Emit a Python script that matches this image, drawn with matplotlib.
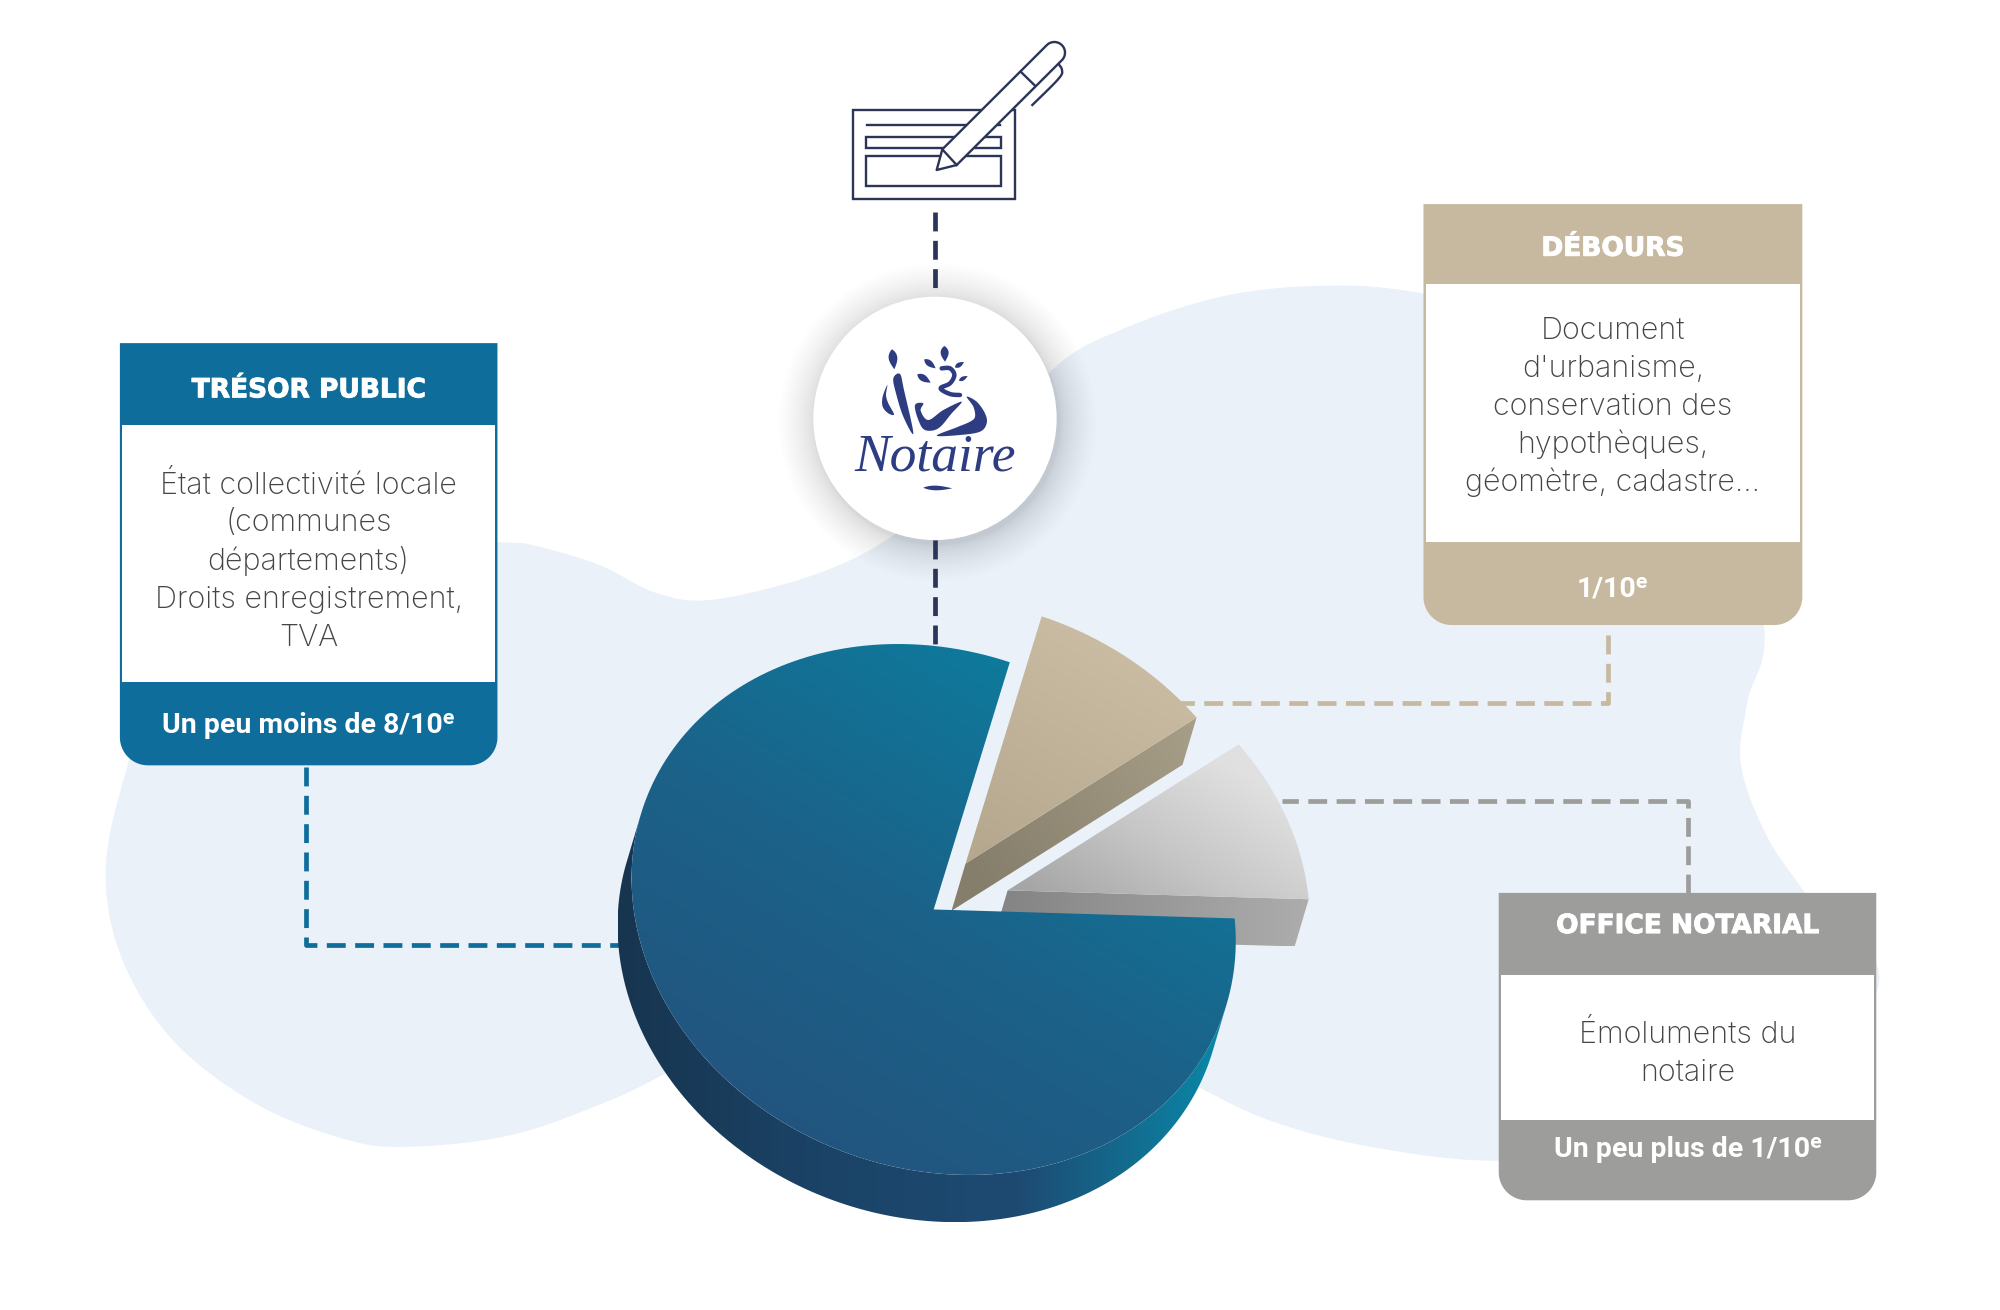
import numpy as np
import matplotlib
matplotlib.use("Agg")
import matplotlib.pyplot as plt
import matplotlib.patheffects as pe
from matplotlib.patches import Polygon, Circle, Rectangle
from matplotlib.colors import LinearSegmentedColormap

# data
slice_names = ["OFFICE NOTARIAL", "DÉBOURS", "TRÉSOR PUBLIC"]
slice_shares = [9.8, 9.8, 80.4]
slice_offsets = [(58, -15), (25, -36), (0, 0)]

titles = ["TRÉSOR PUBLIC", "DÉBOURS", "OFFICE NOTARIAL"]
bodies = [
    ["État collectivité locale", "(communes", "départements)", "Droits enregistrement,", "TVA"],
    ["Document", "d'urbanisme,", "conservation des", "hypothèques,", "géomètre, cadastre..."],
    ["Émoluments du", "notaire"],
]
footers = ["Un peu moins de 8/10ᵉ", "1/10ᵉ", "Un peu plus de 1/10ᵉ"]

BLUE = "#0f6d9b"
BEIGE = "#c7b99f"
GREY = "#9d9d9c"
NAVY = "#2c3558"
LOGO = "#2e3d82"
BLOB = "#eaf1f9"

# pie projection, everything is in the 1568x1027 space
C = np.array([732.0, 713.0])
U = np.array([236.0, 7.0])
V = np.array([-20.0, -208.0])
DEPTH = np.array([-11.0, 37.0])


def arc(t0, t1, off=(0, 0), n=200):
    t = np.radians(np.linspace(t0, t1, n))
    return C + np.array(off) + np.outer(np.cos(t), U) + np.outer(np.sin(t), V)


def smooth(pts, closed=True, n=14):
    pts = np.array(pts, dtype=float)
    if closed:
        p = np.vstack([pts[-1], pts, pts[0], pts[1]])
    else:
        p = np.vstack([pts[0], pts, pts[-1]])
    out = []
    for i in range(1, len(p) - 2):
        for s in np.linspace(0, 1, n, endpoint=False):
            out.append(0.5 * (2 * p[i] + (p[i + 1] - p[i - 1]) * s
                              + (2 * p[i - 1] - 5 * p[i] + 4 * p[i + 1] - p[i + 2]) * s ** 2
                              + (3 * p[i] - p[i - 1] - 3 * p[i + 1] + p[i + 2]) * s ** 3))
    if not closed:
        out.append(p[-2])
    return np.array(out)


def grad_fill(ax, verts, colors, p0, p1, z):
    verts = np.array(verts)
    x0, y0 = verts.min(axis=0)
    x1, y1 = verts.max(axis=0)
    xx, yy = np.meshgrid(np.linspace(x0, x1, 300), np.linspace(y0, y1, 300))
    p0 = np.array(p0, dtype=float)
    d = np.array(p1, dtype=float) - p0
    g = ((xx - p0[0]) * d[0] + (yy - p0[1]) * d[1]) / (d @ d)
    cmap = LinearSegmentedColormap.from_list("g", colors)
    im = ax.imshow(np.clip(g, 0, 1), cmap=cmap, vmin=0, vmax=1, extent=(x0, x1, y1, y0),
                   origin="upper", aspect="auto", interpolation="bilinear", zorder=z)
    clip = Polygon(verts, closed=True, transform=ax.transData, fc="none", ec="none")
    ax.add_patch(clip)
    im.set_clip_path(clip)


def card(ax, x0, x1, y0, y1, y2, y3, color, title, body, footer, title_y, line_ys, foot_y):
    r = 22
    t = np.radians(np.linspace(0, 90, 20))
    right = np.c_[x1 - r + r * np.cos(t), y3 - r + r * np.sin(t)]
    left = np.c_[x0 + r - r * np.sin(t), y3 - r + r * np.cos(t)]
    verts = np.vstack([[[x0, y0], [x1, y0]], right, left])
    ax.add_patch(Polygon(verts, closed=True, fc=color, ec="none", zorder=10))
    ax.add_patch(Rectangle((x0 + 1.8, y1), x1 - x0 - 3.6, y2 - y1, fc="white", ec="none", zorder=11))
    cx = (x0 + x1) / 2
    ax.text(cx, title_y + 2, title, color="white", fontsize=19, fontweight="bold",
            family="DejaVu Sans", ha="center", va="center", zorder=12,
            path_effects=[pe.withStroke(linewidth=0.7, foreground="white")])
    for line, y in zip(body, line_ys):
        ax.text(cx, y + 2, line, color="#454545", fontsize=22, fontweight="light",
                family="Inter", ha="center", va="center", zorder=12)
    ax.text(cx, foot_y + 1.5, footer, color="white", fontsize=20.5, fontweight="bold",
            family=["Roboto", "DejaVu Sans"], ha="center", va="center", zorder=12)


def zx(x):
    return (800 + np.asarray(x, dtype=float) / 3) / (2000 / 1568)


def zy(y):
    return (20 + np.asarray(y, dtype=float) / 3) / (2000 / 1568)


def zp(pts):
    pts = np.array(pts, dtype=float)
    return np.c_[zx(pts[:, 0]), zy(pts[:, 1])]


def leaf(ax, a, b, w, z=8):
    a = np.array(a, dtype=float)
    b = np.array(b, dtype=float)
    s = np.linspace(0, 1, 30)
    n = np.array([-(b - a)[1], (b - a)[0]])
    n = n / np.linalg.norm(n)
    line = a + np.outer(s, b - a)
    bulge = (w / 2) * np.sin(np.pi * s ** 0.8)[:, None] * n
    ax.add_patch(Polygon(zp(np.vstack([line + bulge, (line - bulge)[::-1]])), closed=True,
                         fc=LOGO, ec="none", zorder=z))


fig = plt.figure(figsize=(20, 13.1), dpi=100)
ax = fig.add_axes([0, 0, 1, 1])
ax.axis("off")

# background blob
blob = [(100, 600), (83, 680), (95, 750), (135, 815), (200, 865), (270, 893), (320, 899), (400, 890),
        (480, 862), (600, 810), (800, 780), (935, 850), (1000, 880), (1080, 900), (1175, 910), (1300, 900),
        (1470, 780), (1415, 700), (1385, 655), (1365, 600), (1370, 550), (1383, 490), (1350, 350), (1260, 260),
        (1116, 230), (1040, 224), (960, 232), (880, 258), (825, 290), (760, 370), (700, 420), (640, 450),
        (560, 470), (515, 465), (470, 443), (420, 428), (390, 425), (250, 420), (130, 510)]
ax.add_patch(Polygon(smooth(blob), closed=True, fc=BLOB, ec="none", zorder=1))

# connectors
dash = (0, (4, 2))
for xs, ys, col in [([240, 240, 490], [601, 741, 741], BLUE),
                    ([1261, 1261, 925], [498, 551, 551], BEIGE),
                    ([1323, 1323, 1005], [700, 628, 628], GREY),
                    ([733, 733], [166, 228], NAVY),
                    ([733, 733], [423, 510], NAVY)]:
    ax.plot(xs, ys, color=col, lw=3.4, ls=dash, dash_capstyle="butt", solid_joinstyle="miter", zorder=2)

# pie
edges = np.cumsum([0] + slice_shares) * 3.6
t0, t1, t2, t3 = edges
off_g, off_b, off_m = slice_offsets

# grey slice
ga = C + np.array(off_g)
top = np.vstack([ga, arc(t0, t1, off_g)])
side = np.array([ga, ga + U, ga + U + DEPTH, ga + DEPTH])
grad_fill(ax, side, ["#858585", "#adadad"], ga, ga + U, 3)
grad_fill(ax, top, ["#a6a6a6", "#c6c6c6", "#e0e0e0"], (850, 725), (940, 585), 4)

# beige slice
ba = C + np.array(off_b)
e = arc(t1, t1, off_b, 1)[0]
top = np.vstack([ba, arc(t1, t2, off_b)])
side = np.array([ba, e, e + DEPTH, ba + DEPTH])
grad_fill(ax, side, ["#857e6b", "#a89f88"], ba, e, 3)
grad_fill(ax, top, ["#b5a88f", "#c9bba1"], (770, 670), (860, 510), 4)

# big slice, only the lower front of the side shows
tl, tr = 161, 341
side = np.vstack([arc(tl, tr), arc(tl, tr, DEPTH)[::-1]])
grad_fill(ax, side, ["#17354f", "#1b4367", "#1e4a72", "#0a87a7"], (485, 0), (955, 0), 5)
top = np.vstack([C, arc(t2, t3)])
grad_fill(ax, top, ["#22557f", "#1b6289", "#0e7a9c"], (600, 880), (810, 530), 6)

# notaire circle with soft shadow
n_sh = 40
for i in range(n_sh):
    ax.add_patch(Circle((735, 331), 96 + 30 * (i / n_sh) ** 1.6, fc="#666c78", ec="none", alpha=0.005, zorder=7))
ax.add_patch(Circle((733, 328), 95.4, fc="white", ec="none", zorder=7.5))

# logo figure
leaf(ax, (276, 988), (283, 1048), 26)
leaf(ax, (433, 978), (435, 1025), 24)
leaf(ax, (373, 1018), (407, 1045), 18)
leaf(ax, (352, 1063), (392, 1088), 20)
leaf(ax, (465, 1042), (492, 1026), 14)
leaf(ax, (477, 1082), (503, 1068), 12)
leaf(ax, (370, 1403), (457, 1405), 14)
logo_shapes = [
    [(280, 1075), (300, 1062), (312, 1110), (340, 1240), (310, 1190), (288, 1120)],
    [(262, 1095), (248, 1130), (248, 1160), (265, 1180), (282, 1183), (265, 1150), (258, 1125)],
    [(345, 1155), (370, 1150), (362, 1172), (385, 1200), (430, 1170), (485, 1145), (455, 1180), (415, 1225),
     (375, 1230), (355, 1200)],
    [(500, 1130), (530, 1145), (555, 1180), (560, 1210), (540, 1235), (480, 1245), (410, 1247), (470, 1222),
     (510, 1205), (525, 1190), (520, 1160)],
]
for s in logo_shapes:
    ax.add_patch(Polygon(zp(smooth(s)), closed=True, fc=LOGO, ec="none", zorder=8))
swirl = zp(smooth([(425, 1045), (450, 1045), (463, 1065), (450, 1090), (422, 1105), (450, 1122), (480, 1125)],
                  closed=False))
ax.plot(swirl[:, 0], swirl[:, 1], color=LOGO, lw=3.2, solid_capstyle="round", zorder=8)
ax.text(zx(404), zy(1352), "Notaire", color=LOGO, fontsize=38.5, style="italic",
        family="Liberation Serif", ha="center", va="baseline", zorder=8)

# cheque and pen icon
ilw = 1.7
for x0, y0, x1, y1 in [(158, 270, 644, 537), (199, 352, 603, 383), (199, 408, 603, 497)]:
    ax.add_patch(Rectangle((zx(x0), zy(y0)), zx(x1) - zx(x0), zy(y1) - zy(y0), fc="white", ec=NAVY, lw=ilw, zorder=8))
ln = zp([(200, 314), (600, 314)])
ax.plot(ln[:, 0], ln[:, 1], color=NAVY, lw=ilw, zorder=8)
t = np.radians(np.linspace(-135, 45, 30))
cap = np.c_[763 + 32 * np.cos(t), 98 + 32 * np.sin(t)]
pen = np.vstack([[(410, 450), (427, 388)], cap, [(470, 435)]])
ax.add_patch(Polygon(zp(pen), closed=True, fc="white", ec=NAVY, lw=ilw, joinstyle="round", zorder=9))
for seg in [[(427, 388), (470, 435)], [(662, 155), (705, 197)]]:
    s = zp(seg)
    ax.plot(s[:, 0], s[:, 1], color=NAVY, lw=ilw, zorder=9)
clip_line = zp(smooth([(772, 128), (786, 150), (775, 177), (697, 255)], closed=False))
ax.plot(clip_line[:, 0], clip_line[:, 1], color=NAVY, lw=ilw, zorder=8.5)

# cards
card(ax, 94, 390, 269, 333, 535, 600, BLUE, titles[0], bodies[0], footers[0],
     304, [378, 408, 438, 468, 498], 567)
card(ax, 1116, 1413, 160, 223, 425, 490, BEIGE, titles[1], bodies[1], footers[1],
     193, [257, 287, 317, 346, 376], 460)
card(ax, 1175, 1471, 700, 764, 878, 941, GREY, titles[2], bodies[2], footers[2],
     724, [809, 839], 900)

ax.set_xlim(0, 1568)
ax.set_ylim(1027, 0)
fig.savefig("out.png", dpi=100, facecolor="white")
